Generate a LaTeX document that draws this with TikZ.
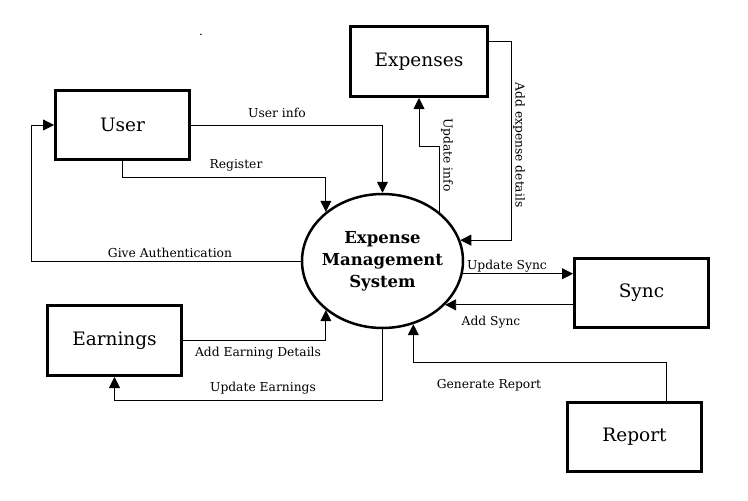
\documentclass[tikz,border=0pt]{standalone}
\usepackage{fontspec}
\setmainfont{DejaVu Serif}
\usetikzlibrary{arrows.meta,calc,shapes.geometric}
\begin{document}
\begin{tikzpicture}[x=1pt,y=-1pt,
  entity/.style={draw,line width=3pt,minimum width=134pt,minimum height=69pt,inner sep=0pt,font=\fontsize{18.5}{21}\selectfont},
  proc/.style={draw,ellipse,line width=2.5pt,minimum width=161pt,minimum height=134pt,inner sep=0pt},
  proctext/.style={align=center,inner sep=0pt,font=\fontsize{16.5}{22}\selectfont\bfseries},
  flow/.style={line width=0.8pt,-{Triangle[length=11pt,width=11pt]}},
  lbl/.style={font=\fontsize{12.3}{14}\selectfont,inner sep=0pt}]
\useasboundingbox (0,0) rectangle (748,501);
\node[entity] (user) at (122.5,125) {User};
\node[entity,minimum width=137pt,minimum height=70pt] (expenses) at (419,61.5) {Expenses};
\node[entity,minimum height=70pt] (earnings) at (114.5,340.5) {Earnings};
\node[entity] (sync) at (641.5,293) {Sync};
\node[entity] (report) at (634.5,437) {Report};
\node[proc] (ems) at (382.5,261) {};
\node[proctext] (emstext) at (ems.center) {Expense\\Management\\System};
\node[lbl] (dot) at (201,35) {.};
% connectors
\draw[flow] (user.east) -| (ems.north);
\draw[flow] (user.south) -- ++(0,16) -| (ems.139);
\draw[flow] (ems.west) -| ($(user.west)+(-23,0)$) -- (user.west);
\draw[flow] (ems.41) |- ($(expenses.south)+(0,48)$) -- (expenses.south);
\draw[flow] ($(expenses.north east)+(0,16)$) -- ++(22,0) |- (ems.15);
\draw[flow] (ems.-9) -- (ems.-9 -| sync.west);
\draw[flow] (ems.-35 -| sync.west) -- (ems.-35);
\draw[flow] (earnings.east) -| (ems.-139);
\draw[flow] (ems.south) |- ($(earnings.south)+(0,23)$) -- (earnings.south);
\draw[flow] ($(report.north)+(31.5,0)$) |- ($(ems.-64)+(0,38)$) -- (ems.-64);
% labels
\node[lbl] (l1) at (277,113) {User info};
\node[lbl] (l2) at (236,165) {Register};
\node[lbl] (l3) at (170,253) {Give Authentication};
\node[lbl,rotate=-90] (l4) at (447,155) {Update info};
\node[lbl,rotate=-90] (l5) at (519,145) {Add expense details};
\node[lbl] (l6) at (507,266) {Update Sync};
\node[lbl] (l7) at (491,322) {Add Sync};
\node[lbl] (l8) at (258,353) {Add Earning Details};
\node[lbl] (l9) at (263,388) {Update Earnings};
\node[lbl] (l10) at (489,385) {Generate Report};
\end{tikzpicture}
\end{document}
